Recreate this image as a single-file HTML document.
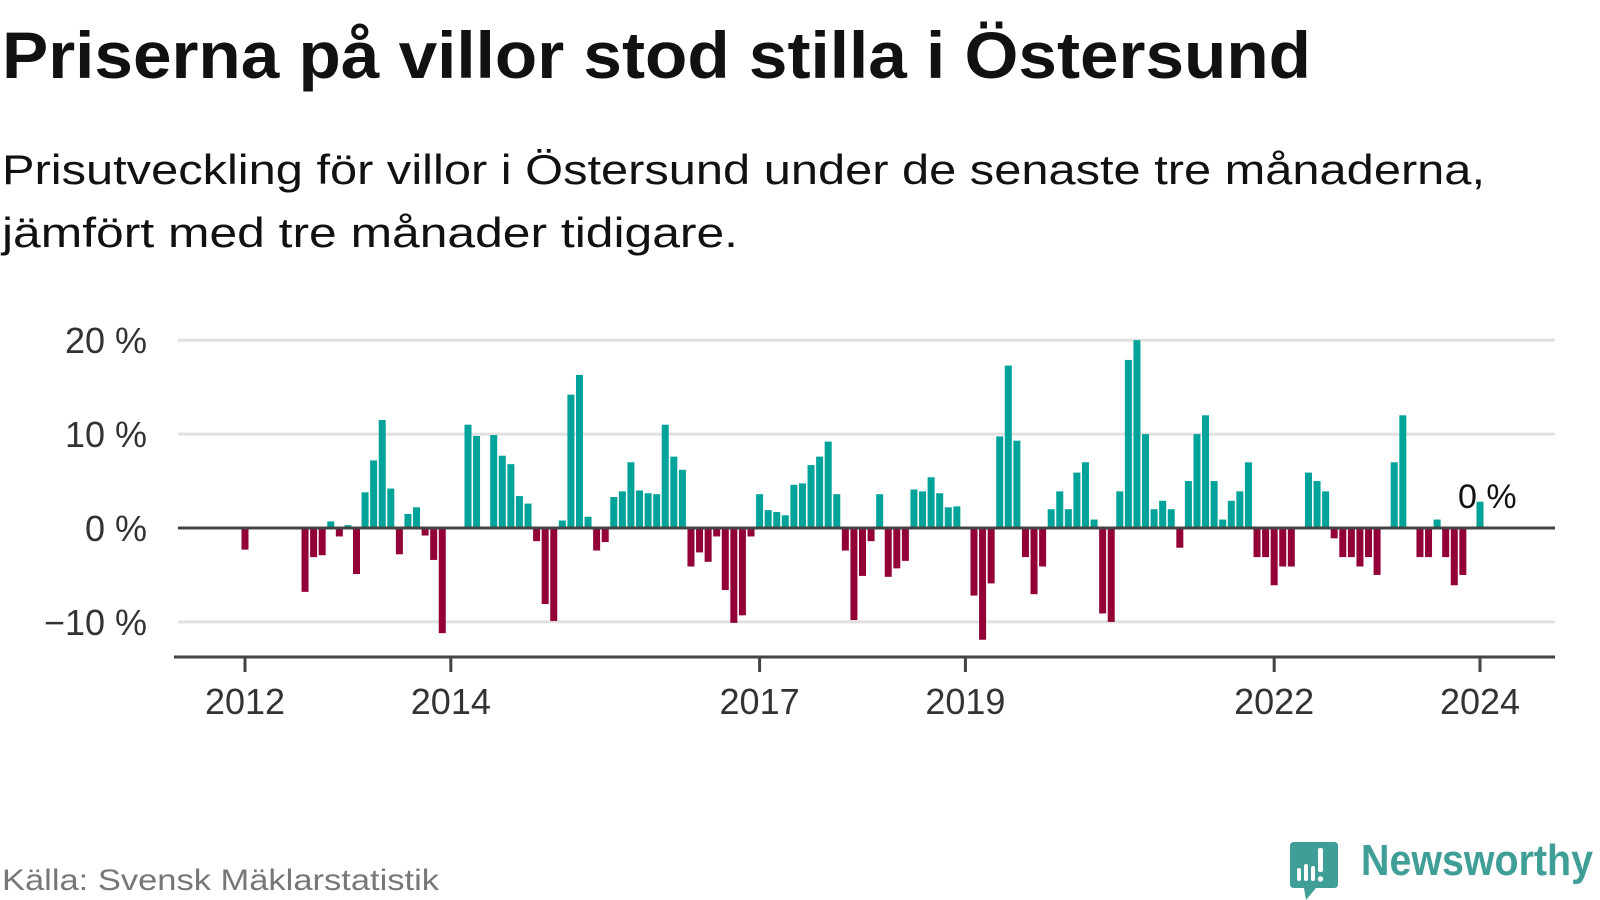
<!DOCTYPE html>
<html><head><meta charset="utf-8">
<style>
html,body{margin:0;padding:0;background:#fff;}
svg{display:block;font-family:"Liberation Sans",sans-serif;}
</style></head>
<body>
<svg id="chart" width="1600" height="900" viewBox="0 0 1600 900">
  <text x="2" y="78" font-size="66" font-weight="bold" fill="#111" textLength="1309" lengthAdjust="spacingAndGlyphs">Priserna på villor stod stilla i Östersund</text>
  <text x="2" y="184" font-size="42" fill="#111" textLength="1483" lengthAdjust="spacingAndGlyphs">Prisutveckling för villor i Östersund under de senaste tre månaderna,</text>
  <text x="2" y="247" font-size="42" fill="#111" textLength="736" lengthAdjust="spacingAndGlyphs">jämfört med tre månader tidigare.</text>
  <g id="grid"></g>
  <g id="yaxis"></g>
  <g id="bars"></g>
  <line x1="178" x2="1555" y1="528" y2="528" stroke="#444" stroke-width="3"/>
  <g id="xaxis"></g>
  <text x="1458" y="508" font-size="34" fill="#111">0 %</text>
  <text x="2" y="890" font-size="30" fill="#777" textLength="437" lengthAdjust="spacingAndGlyphs">Källa: Svensk Mäklarstatistik</text>
  <g>
    <path d="M1294 842 H1334 Q1338 842 1338 846 V884 Q1338 888 1334 888 H1316 L1306 900 L1304 888 H1294 Q1290 888 1290 884 V846 Q1290 842 1294 842 Z" fill="#3f9e96"/>
    <rect x="1297" y="868" width="4" height="13" rx="2" fill="#fff"/>
    <rect x="1304" y="864" width="4" height="17" rx="2" fill="#fff"/>
    <rect x="1311" y="866" width="4" height="15" rx="2" fill="#fff"/>
    <rect x="1318" y="848" width="5" height="24" rx="2" fill="#fff"/>
    <circle cx="1320.5" cy="879" r="2.7" fill="#fff"/>
    <text x="1361" y="875" font-size="44" font-weight="bold" fill="#3f9e96" textLength="232" lengthAdjust="spacingAndGlyphs">Newsworthy</text>
  </g>
</svg>
<script>
// monthly change (%) starting Jan 2012; null = no data
const values = [
-2.3,null,null,null,null,null,null,-6.8,-3.1,-2.9,0.7,-0.9,
0.3,-4.9,3.8,7.2,11.5,4.2,-2.8,1.5,2.2,-0.8,-3.4,-11.2,
null,null,11.0,9.8,null,9.9,7.7,6.8,3.4,2.6,-1.4,-8.1,
-9.9,0.8,14.2,16.3,1.2,-2.4,-1.5,3.3,3.9,7.0,4.0,3.7,
3.6,11.0,7.6,6.2,-4.1,-2.6,-3.6,-0.9,-6.6,-10.1,-9.3,-0.9,
3.6,1.9,1.7,1.35,4.6,4.75,6.7,7.6,9.2,3.6,-2.4,-9.8,
-5.1,-1.4,3.6,-5.2,-4.3,-3.5,4.1,3.9,5.4,3.7,2.2,2.3,
null,-7.2,-11.9,-5.9,9.75,17.3,9.3,-3.1,-7.05,-4.1,2.0,3.9,
2.0,5.9,7.0,0.9,-9.1,-10.0,3.9,17.9,20.0,10.0,2.0,2.9,
2.0,-2.1,5.0,10.0,12.0,5.0,0.9,2.9,3.9,7.0,-3.1,-3.1,
-6.1,-4.1,-4.1,null,5.9,5.0,3.9,-1.1,-3.1,-3.1,-4.1,-3.1,
-5.0,null,7.0,12.0,null,-3.1,-3.1,0.9,-3.1,-6.1,-5.0,null,
2.8];
const yTicks = [20,10,0,-10];
const yTickLabels = ["20 %","10 %","0 %","\u221210 %"];
const xTickYears = [2012,2014,2017,2019,2022,2024];

const NS="http://www.w3.org/2000/svg";
const x0=245, monthW=(1480-245)/144;
function xScale(i){return x0+monthW*i;}
function yScale(v){return 528 - v*9.39;}
function mk(tag,attrs,parent){const e=document.createElementNS(NS,tag);for(const k in attrs)e.setAttribute(k,attrs[k]);parent.appendChild(e);return e;}

const grid=document.getElementById('grid'), yaxis=document.getElementById('yaxis');
yTicks.forEach((t,k)=>{
  if(t!==0){
    const l=mk('line',{x1:178,x2:1555,y1:yScale(t),y2:yScale(t),stroke:'#e0e0e0','stroke-width':3},grid);
    
    
  }
  const tx=mk('text',{x:147,y:yScale(t)+13,'font-size':36,fill:'#333','text-anchor':'end'},yaxis);
  tx.textContent=yTickLabels[k];
  
  
});

const bars=document.getElementById('bars');
values.forEach((v,i)=>{
  if(v===null||v===undefined)return;
  const y0=yScale(0), y1=yScale(v);
  const r=mk('rect',{x:xScale(i)-3.5,width:7,y:Math.min(y0,y1),height:Math.abs(y1-y0),fill:v>=0?'#00a39a':'#930038'},bars);
  
  
});

const xaxis=document.getElementById('xaxis');
const axl=mk('line',{x1:174,x2:1555,y1:657,y2:657,stroke:'#444','stroke-width':3},xaxis);


xTickYears.forEach(yr=>{
  const x=xScale((yr-2012)*12);
  const tk=mk('line',{x1:x,x2:x,y1:657,y2:672,stroke:'#444','stroke-width':3},xaxis);
  
  
  const t=mk('text',{x:x,y:714,'font-size':36,fill:'#333','text-anchor':'middle'},xaxis);
  t.textContent=yr;
  
  
});
</script>
</body></html>
